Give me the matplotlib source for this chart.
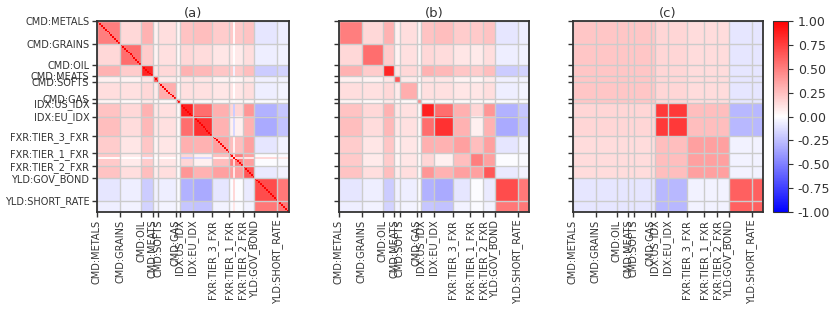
import numpy as np
import matplotlib
matplotlib.use("Agg")
import matplotlib.pyplot as plt

# groups of assets and how many assets each holds
groups = ["CMD:METALS", "CMD:GRAINS", "CMD:OIL", "CMD:MEATS", "CMD:SOFTS",
          "CMD:GAS", "IDX:US_IDX", "IDX:EU_IDX", "FXR:TIER_3_FXR",
          "FXR:TIER_1_FXR", "FXR:TIER_2_FXR", "YLD:GOV_BOND", "YLD:SHORT_RATE"]
group_sizes = [12, 11, 6, 3, 9, 2, 7, 10, 9, 7, 6, 12, 6]

# sector of each group (for panel c)
sectors = ["CMD", "IDX", "FXR", "YLD"]
group_sector = [0, 0, 0, 0, 0, 0, 1, 1, 2, 2, 2, 3, 3]

# group-level average correlation (panel b), upper triangle
group_corr_upper = [
    [0.50, 0.15, 0.30, 0.06, 0.13, 0.04, 0.23, 0.25, 0.20, 0.21, 0.23, -0.10, -0.07],
    [0.57, 0.20, 0.05, 0.12, 0.03, 0.15, 0.14, 0.10, 0.08, 0.13, -0.07, -0.05],
    [0.85, 0.10, 0.15, 0.08, 0.30, 0.28, 0.22, 0.20, 0.25, -0.20, -0.17],
    [0.65, 0.08, 0.02, 0.10, 0.10, 0.05, 0.04, 0.08, -0.06, -0.05],
    [0.32, 0.03, 0.12, 0.12, 0.10, 0.10, 0.13, -0.07, -0.04],
    [0.45, 0.03, 0.03, 0.03, 0.03, 0.03, -0.02, -0.02],
    [0.87, 0.57, 0.31, 0.16, 0.41, -0.30, -0.22],
    [0.80, 0.30, 0.06, 0.30, -0.33, -0.24],
    [0.37, 0.25, 0.37, -0.10, -0.05],
    [0.50, 0.37, -0.01, -0.02],
    [0.65, -0.08, -0.05],
    [0.70, 0.53],
    [0.53],
]

# one FX asset in panel (a) that moves against equities (blue stripe)
haven_asset = 71
haven_corr = [0.02, 0.0, -0.05, 0.0, 0.0, 0.0, -0.20, -0.15, 0.05, 0.15, 0.10, 0.15, 0.10]

# sector-level average correlation (panel c)
sector_corr = [
    [0.22, 0.16, 0.14, -0.10],
    [0.16, 0.77, 0.25, -0.28],
    [0.14, 0.25, 0.37, -0.05],
    [-0.10, -0.28, -0.05, 0.62],
]

ng = len(groups)
G = np.zeros((ng, ng))
for i, row in enumerate(group_corr_upper):
    G[i, i:] = row
G = G + np.triu(G, 1).T

labels = np.repeat(np.arange(ng), group_sizes)
N = len(labels)
starts = np.concatenate([[0], np.cumsum(group_sizes)[:-1]])

mat_b = G[np.ix_(labels, labels)]
mat_a = mat_b.copy()
hv = np.array(haven_corr)[labels]
mat_a[haven_asset, :] = hv
mat_a[:, haven_asset] = hv
np.fill_diagonal(mat_a, 1.0)
S = np.array(sector_corr)
sec = np.array(group_sector)[labels]
mat_c = S[np.ix_(sec, sec)]

W, H = 831, 315
fig = plt.figure(figsize=(W / 100, H / 100), dpi=100)


def frame(x0, x1, y0, y1):
    return [x0 / W, (H - y1) / H, (x1 - x0) / W, (y1 - y0) / H]


axes = [fig.add_axes(frame(97, 289, 21, 212)),
        fig.add_axes(frame(339, 529, 21, 212)),
        fig.add_axes(frame(573, 763, 21, 212))]
cax = fig.add_axes(frame(773, 788, 21, 212))

for k, (ax, m, t) in enumerate(zip(axes, [mat_a, mat_b, mat_c], ["(a)", "(b)", "(c)"])):
    im = ax.imshow(m, cmap="bwr", vmin=-1, vmax=1, extent=(0, N, N, 0),
                   interpolation="nearest", aspect="auto")
    ax.set_xticks(starts)
    ax.set_yticks(starts)
    ax.set_xticklabels(groups, rotation=90, fontsize=7, color="#333333")
    if k == 0:
        ax.set_yticklabels(groups, fontsize=7, color="#333333")
    else:
        ax.set_yticklabels([])
    ax.grid(True, color="#cccccc", linewidth=1)
    ax.tick_params(length=3.5, width=1, color="#333333", pad=2)
    for s in ax.spines.values():
        s.set_color("#333333")
        s.set_linewidth(1.3)
    ax.set_title(t, fontsize=9.5, color="#333333", pad=3)

cb = fig.colorbar(im, cax=cax, ticks=np.linspace(-1, 1, 9))
cb.ax.tick_params(labelsize=9, length=3.5, color="#333333", labelcolor="#333333")
cb.ax.yaxis.set_major_formatter(matplotlib.ticker.FormatStrFormatter("%.2f"))
cb.outline.set_edgecolor("#333333")

fig.savefig("out.png", dpi=100)
